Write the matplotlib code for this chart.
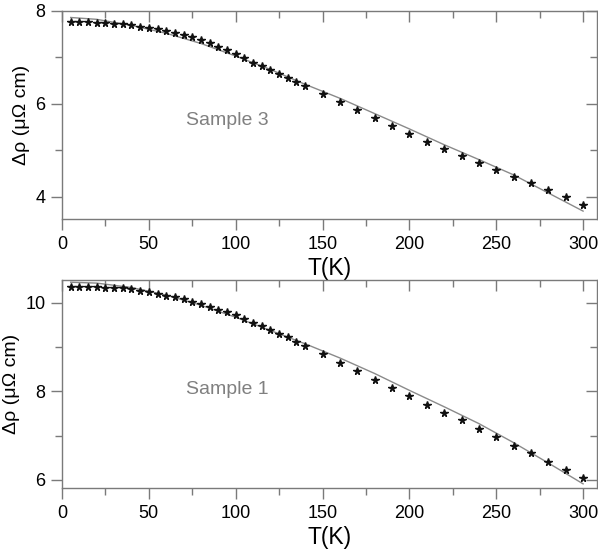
import matplotlib
matplotlib.use('Agg')
import matplotlib.pyplot as plt
from matplotlib.ticker import MultipleLocator

plt.rcParams['font.family'] = ['Liberation Sans', 'DejaVu Sans']

# measured points: every 5 K up to 140 K, then every 10 K
temps = [5, 10, 15, 20, 25, 30, 35, 40, 45, 50, 55, 60, 65, 70, 75, 80, 85, 90, 95, 100,
         105, 110, 115, 120, 125, 130, 135, 140,
         150, 160, 170, 180, 190, 200, 210, 220, 230, 240, 250, 260, 270, 280, 290, 300]

rho_s3 = [7.76, 7.76, 7.755, 7.745, 7.74, 7.73, 7.71, 7.69, 7.66, 7.64, 7.61, 7.57, 7.53, 7.48,
          7.43, 7.37, 7.30, 7.23, 7.16, 7.08, 6.98, 6.89, 6.815, 6.73, 6.64, 6.56, 6.47, 6.39,
          6.22, 6.03, 5.87, 5.69, 5.52, 5.36, 5.18, 5.03, 4.88, 4.72, 4.57, 4.43, 4.29, 4.14,
          3.99, 3.83]

rho_s1 = [10.36, 10.36, 10.355, 10.35, 10.34, 10.33, 10.32, 10.30, 10.27, 10.24, 10.20, 10.16,
          10.12, 10.07, 10.02, 9.96, 9.90, 9.84, 9.78, 9.71, 9.63, 9.55, 9.47, 9.38, 9.29, 9.22,
          9.12, 9.03, 8.84, 8.64, 8.45, 8.26, 8.07, 7.89, 7.69, 7.51, 7.35, 7.15, 6.97, 6.77,
          6.60, 6.41, 6.22, 6.04]

# fitted curves
fit_t = [5, 20, 40, 60, 80, 100, 120, 140, 160, 180, 200, 220, 240, 260, 280, 300]
fit_s3 = [7.86, 7.82, 7.69, 7.52, 7.30, 7.03, 6.74, 6.42, 6.12, 5.79, 5.46, 5.12, 4.80, 4.47,
          4.08, 3.69]
fit_s1 = [10.46, 10.44, 10.34, 10.17, 9.94, 9.67, 9.37, 9.07, 8.75, 8.40, 8.02, 7.65, 7.27,
          6.84, 6.38, 5.91]

fig = plt.figure(figsize=(5.98, 5.55), dpi=100)
ax1 = fig.add_axes([0.1037, 0.6054, 0.8946, 0.3748])
ax2 = fig.add_axes([0.1037, 0.1202, 0.8946, 0.3753])

panels = [
    (ax1, rho_s3, fit_s3, (3.52, 8.0), 'Sample 3', 5.65),
    (ax2, rho_s1, fit_s1, (5.81, 10.51), 'Sample 1', 8.03),
]

for ax, rho, fit, ylim, name, ytxt in panels:
    ax.plot(fit_t, fit, color='#8a8a8a', linewidth=1.0, zorder=2)
    ax.plot(temps, rho, linestyle='none', marker='*', color='#111111',
            markersize=5.5, zorder=3)
    ax.set_xlim(0, 308)
    ax.set_ylim(*ylim)
    ax.xaxis.set_major_locator(MultipleLocator(50))
    ax.xaxis.set_minor_locator(MultipleLocator(25))
    ax.yaxis.set_major_locator(MultipleLocator(2))
    ax.yaxis.set_minor_locator(MultipleLocator(1))
    for s in ax.spines.values():
        s.set_color('#7a7a7a')
        s.set_linewidth(1.0)
    ax.tick_params(which='both', color='#7a7a7a', labelsize=13, pad=4)
    ax.tick_params(which='major', length=8, width=1.0)
    ax.tick_params(which='minor', length=5, width=1.0)
    ax.tick_params(which='both', top=True, right=True)
    # mirrored ticks on top/right point inward
    for t in ax.xaxis.get_major_ticks() + ax.xaxis.get_minor_ticks():
        t.tick2line.set_marker(3)
    for t in ax.yaxis.get_major_ticks() + ax.yaxis.get_minor_ticks():
        t.tick2line.set_marker(0)
    ax.set_xlabel('T(K)', fontsize=16.5, labelpad=3)
    ax.set_ylabel('Δρ (μΩ cm)', fontsize=14, labelpad=4)
    ax.text(95, ytxt, name, color='#808080', fontsize=14, ha='center', va='center')

fig.savefig('out.png', dpi=100)
